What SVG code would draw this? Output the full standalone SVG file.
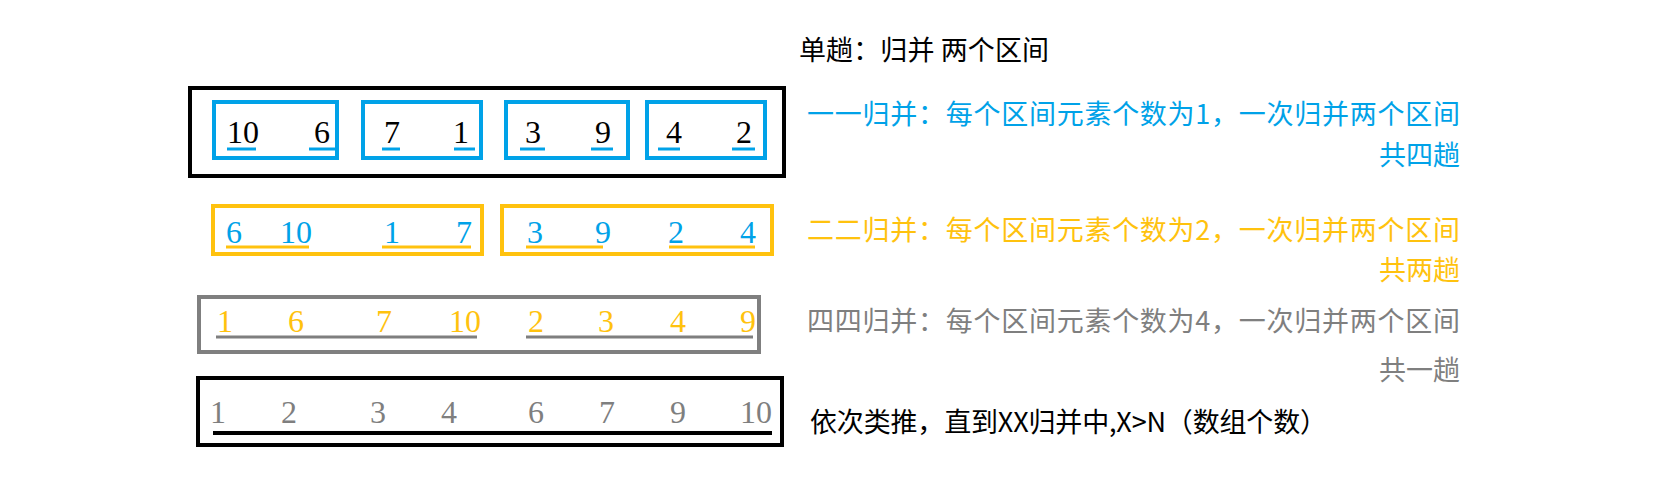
<svg xmlns="http://www.w3.org/2000/svg" width="1671" height="482" viewBox="0 0 1671 482">
<style>
.cj{font-family:"Noto Sans CJK SC","Liberation Serif",serif;font-size:27px}
.d{font-family:"Liberation Serif",serif;font-size:32px;text-anchor:middle}
.b{fill:#00a2e8}.y{fill:#ffc20e}.g{fill:#7f7f7f}.k{fill:#000}
.bx{fill:none;stroke-width:4}
</style>
<rect width="1671" height="482" fill="#fff"/>
<g id="title"><text class="cj k" x="799" y="60" textLength="250" lengthAdjust="spacing">单趟：归并 两个区间</text></g>
<g id="row1">
<rect class="bx" x="190" y="88" width="594" height="88" stroke="#000"/>
<g id="r1b1"><rect class="bx" x="214" y="102" width="123" height="56" stroke="#00a2e8"/>
<text class="d k" x="243" y="143">10</text><text class="d k" x="322" y="143">6</text></g>
<g id="r1b2"><rect class="bx" x="363" y="102" width="118" height="56" stroke="#00a2e8"/>
<text class="d k" x="392" y="143">7</text><text class="d k" x="461" y="143">1</text></g>
<g id="r1b3"><rect class="bx" x="506" y="102" width="122" height="56" stroke="#00a2e8"/>
<text class="d k" x="533" y="143">3</text><text class="d k" x="603" y="143">9</text></g>
<g id="r1b4"><rect class="bx" x="647" y="102" width="118" height="56" stroke="#00a2e8"/>
<text class="d k" x="674" y="143">4</text><text class="d k" x="744" y="143">2</text></g>
</g>
<g id="row2">
<g id="r2b1"><rect class="bx" x="213" y="206" width="269" height="48" stroke="#ffc20e"/>
<text class="d b" x="234" y="243">6</text><text class="d b" x="296" y="243">10</text><text class="d b" x="392" y="243">1</text><text class="d b" x="464" y="243">7</text></g>
<g id="r2b2"><rect class="bx" x="502" y="206" width="270" height="48" stroke="#ffc20e"/>
<text class="d b" x="535" y="243">3</text><text class="d b" x="603" y="243">9</text><text class="d b" x="676" y="243">2</text><text class="d b" x="748" y="243">4</text></g>
</g>
<g id="row3">
<rect class="bx" x="199" y="297" width="560" height="55" stroke="#7f7f7f"/>
<text class="d y" x="225" y="332">1</text><text class="d y" x="296" y="332">6</text><text class="d y" x="384" y="332">7</text><text class="d y" x="465" y="332">10</text>
<text class="d y" x="536" y="332">2</text><text class="d y" x="606" y="332">3</text><text class="d y" x="678" y="332">4</text><text class="d y" x="748" y="332">9</text>
</g>
<g id="row4">
<rect class="bx" x="198" y="378" width="584" height="67" stroke="#000"/>
<text class="d g" x="218" y="423">1</text><text class="d g" x="289" y="423">2</text><text class="d g" x="378" y="423">3</text><text class="d g" x="449" y="423">4</text>
<text class="d g" x="536" y="423">6</text><text class="d g" x="607" y="423">7</text><text class="d g" x="678" y="423">9</text><text class="d g" x="756" y="423">10</text>
</g>
<g id="connectors" stroke-width="3">
<g stroke="#00a2e8">
<line x1="227" y1="149" x2="256" y2="149"/><line x1="309" y1="149" x2="335" y2="149"/>
<line x1="382" y1="149" x2="400" y2="149"/><line x1="454" y1="149" x2="475" y2="149"/>
<line x1="520" y1="149" x2="545" y2="149"/><line x1="591" y1="149" x2="613" y2="149"/>
<line x1="658" y1="149" x2="680" y2="149"/><line x1="732" y1="149" x2="755" y2="149"/>
</g>
<g stroke="#ffc20e">
<line x1="226" y1="247" x2="309" y2="247"/><line x1="382" y1="247" x2="471" y2="247"/>
<line x1="526" y1="247" x2="603" y2="247"/><line x1="669" y1="247" x2="755" y2="247"/>
</g>
<g stroke="#7f7f7f">
<line x1="216" y1="337" x2="477" y2="337"/><line x1="526" y1="337" x2="753" y2="337"/>
</g>
<line x1="213" y1="433" x2="772" y2="433" stroke="#000" stroke-width="4"/>
</g>
<g id="notes">
<text class="cj b" x="807" y="124" textLength="653" lengthAdjust="spacing">一一归并：每个区间元素个数为1，一次归并两个区间</text>
<text class="cj b" x="1460" y="165" text-anchor="end">共四趟</text>
<text class="cj y" x="807" y="240" textLength="653" lengthAdjust="spacing">二二归并：每个区间元素个数为2，一次归并两个区间</text>
<text class="cj y" x="1460" y="280" text-anchor="end">共两趟</text>
<text class="cj g" x="807" y="331" textLength="653" lengthAdjust="spacing">四四归并：每个区间元素个数为4，一次归并两个区间</text>
<text class="cj g" x="1460" y="380" text-anchor="end">共一趟</text>
<text class="cj k" x="810" y="432" textLength="517" lengthAdjust="spacing">依次类推，直到XX归并中,X&gt;N（数组个数）</text>
</g>
</svg>
